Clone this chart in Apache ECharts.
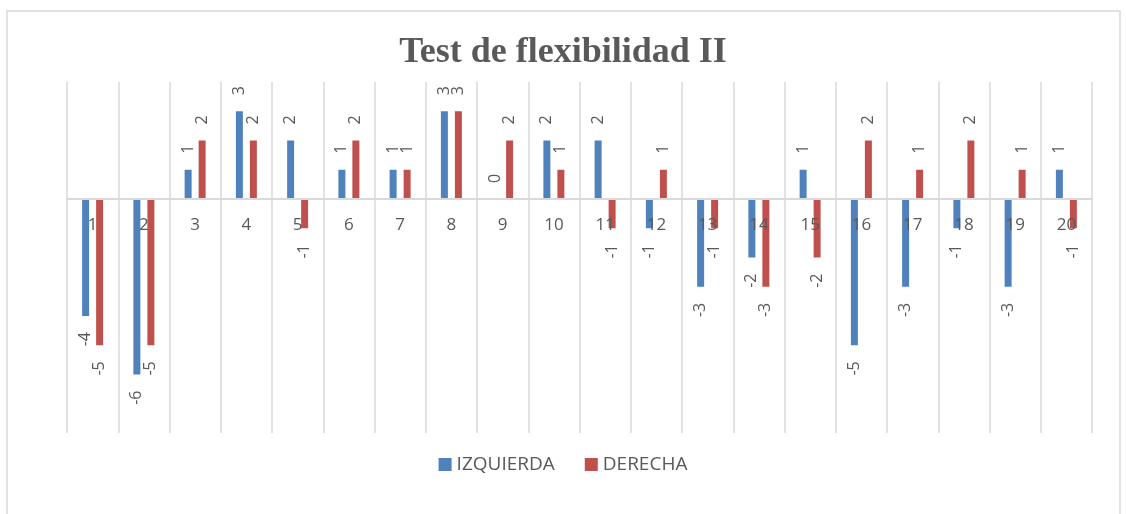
<!DOCTYPE html>
<html>
<head>
<meta charset="utf-8">
<script src="https://cdn.jsdelivr.net/npm/echarts@6/dist/echarts.min.js"></script>
<style>
html,body{margin:0;padding:0;background:#fff;}
#chart{width:1126px;height:514px;}
</style>
</head>
<body>
<div id="chart"></div>
<script>
const title = 'Test de flexibilidad II';
const categories = ['1','2','3','4','5','6','7','8','9','10','11','12','13','14','15','16','17','18','19','20'];
const seriesNames = ['IZQUIERDA', 'DERECHA'];
const izquierda = [-4, -6, 1, 3, 2, 1, 1, 3, 0, 2, 2, -1, -3, -2, 1, -5, -3, -1, -3, 1];
const derecha = [-5, -5, 2, 2, -1, 2, 1, 3, 2, 1, -1, 1, -1, -3, -2, 2, 1, 2, 1, -1];

const colors = ['#4F81BD', '#C0504D'];
const textColor = '#595959';

function buildData(values) {
  return values.map(v => ({
    value: v,
    label: {
      position: v < 0 ? 'bottom' : 'top',
      align: v < 0 ? 'right' : 'left'
    }
  }));
}

const chart = echarts.init(document.getElementById('chart'));
chart.setOption({
  animation: false,
  backgroundColor: '#fff',
  title: {
    text: title,
    left: 'center',
    top: 30,
    textStyle: {
      fontFamily: 'Liberation Serif',
      fontWeight: 'bold',
      fontSize: 36,
      color: textColor
    }
  },
  legend: {
    bottom: 35,
    left: 'center',
    itemWidth: 13,
    itemHeight: 13,
    itemGap: 30,
    itemStyle: { borderWidth: 0 },
    icon: 'rect',
    textStyle: { fontFamily: 'Open Sans', fontSize: 19, color: textColor },
    data: seriesNames
  },
  graphic: [{
    type: 'rect',
    shape: { x: 7, y: 11, width: 1113, height: 520 },
    style: { fill: 'none', stroke: '#D9D9D9', lineWidth: 1.5 },
    silent: true,
    z: -1
  }],
  grid: { left: 67, right: 34, top: 82, bottom: 81 },
  xAxis: {
    type: 'category',
    data: categories,
    offset: -234,
    z: 10,
    axisLine: { onZero: false, lineStyle: { color: '#D9D9D9', width: 2 } },
    axisTick: { show: false },
    axisLabel: { color: textColor, fontFamily: 'Open Sans', fontSize: 17, margin: 18, interval: 0 },
    splitLine: { show: true, lineStyle: { color: '#D9D9D9', width: 1.5 } }
  },
  yAxis: {
    type: 'value',
    min: -8,
    max: 4,
    interval: 1,
    show: false,
    splitLine: { show: false }
  },
  series: [izquierda, derecha].map((vals, i) => ({
    name: seriesNames[i],
    type: 'bar',
    data: buildData(vals),
    barWidth: 7,
    barGap: '100%',
    itemStyle: { color: colors[i] },
    label: {
      show: true,
      rotate: 90,
      distance: 16,
      verticalAlign: 'middle',
      color: textColor,
      fontFamily: 'Open Sans',
      fontSize: 16
    }
  }))
});
</script>
</body>
</html>
